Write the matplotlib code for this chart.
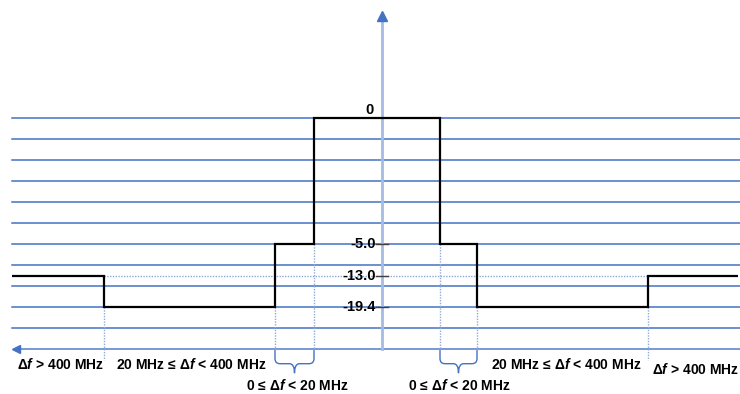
import numpy as np
import matplotlib.pyplot as plt
from matplotlib.path import Path
from matplotlib.patches import PathPatch

plt.rcParams['font.family'] = ['Liberation Sans', 'DejaVu Sans']
plt.rcParams['font.weight'] = 'bold'
plt.rcParams['mathtext.fontset'] = 'custom'
plt.rcParams['mathtext.it'] = 'Liberation Sans:bold:italic'
plt.rcParams['mathtext.rm'] = 'Liberation Sans:bold'

# emission mask (dB), one value per frequency segment, left to right
mask_db = [-13.0, -19.4, -5.0, 0.0, -5.0, -19.4, -13.0]
# segment edges on the (not to scale) frequency axis
seg_edges = [12, 104, 275, 314, 440, 477, 648, 738]
# where each dB level sits on the schematic grid
level_pos = {0.0: 0.0, -5.0: -6.0, -13.0: -7.5, -19.4: -9.0}
value_labels = ['0', '-5.0', '-13.0', '-19.4']
range_labels = [r'Δ$f$ > 400 MHz', r'20 MHz ≤ Δ$f$ < 400 MHz', r'0 ≤ Δ$f$ < 20 MHz',
                r'0 ≤ Δ$f$ < 20 MHz', r'20 MHz ≤ Δ$f$ < 400 MHz', r'Δ$f$ > 400 MHz']

grid_blue = '#4472C4'
light_blue = '#a4bbe4'
dot_blue = '#8eaadb'

fig = plt.figure(figsize=(7.4, 3.94), dpi=100)
ax = fig.add_axes([0, 0, 1, 1])
ax.set_xlim(0, 740)
ax.set_ylim(-(394 - 118) / 21, 118 / 21)
ax.axis('off')

x0, x1 = 12, 740
x_axis = 381.5
y_axis = -11

# grid lines
for g in range(0, -11, -1):
    ax.plot([x0, x1], [g, g], color=grid_blue, lw=1.1, zorder=1)

# axes with arrow heads
ax.plot([x0 + 3, x1], [y_axis, y_axis], color='#6d91d4', lw=1.3, zorder=2)
ax.plot([x0 + 4], [y_axis], marker='<', ms=6, color=grid_blue, mec=grid_blue, zorder=3)
ax.plot([x_axis, x_axis], [y_axis, 4.9], color=light_blue, lw=2, zorder=2)
ax.plot([x_axis], [4.85], marker='^', ms=6.5, color=grid_blue, mec=grid_blue, zorder=3)

# mask
ys = [level_pos[v] for v in mask_db]
ax.stairs(ys, seg_edges, baseline=None, color='black', lw=1.6, zorder=4)

# dotted guides
ax.plot([seg_edges[1], seg_edges[6]], [level_pos[-13.0]] * 2, color=dot_blue,
        lw=1, ls=(0, (1, 1)), zorder=2)
drop = {1: -11.5, 2: -11.05, 3: -11.05, 4: -11.05, 5: -11.05, 6: -11.5}
for i, yb in drop.items():
    top = min(ys[i - 1], ys[i])
    ax.plot([seg_edges[i]] * 2, [top, yb], color=dot_blue, lw=1, ls=(0, (1, 1)), zorder=2)

# level labels and ticks
ax.text(370, 0.38, value_labels[0], ha='center', va='center', fontsize=10.5)
for lab, v in zip(value_labels[1:], [-5.0, -13.0, -19.4]):
    ax.plot([376, 388], [level_pos[v]] * 2, color='#404040', lw=1, zorder=5)
    ax.text(376, level_pos[v], lab, ha='right', va='center', fontsize=10.5, zorder=6)


def brace(xa, xb, yt=-11.05, ym=-11.7, ytip=-12.15, rx=5, k=0.25):
    xc = (xa + xb) / 2
    verts = [(xa, yt), (xa, ym + k), (xa, ym), (xa + rx, ym), (xc - rx, ym),
             (xc, ym), (xc, ytip), (xc, ym), (xc + rx, ym), (xb - rx, ym),
             (xb, ym), (xb, ym + k), (xb, yt)]
    codes = [Path.MOVETO, Path.LINETO, Path.CURVE3, Path.CURVE3, Path.LINETO,
             Path.CURVE3, Path.CURVE3, Path.CURVE3, Path.CURVE3, Path.LINETO,
             Path.CURVE3, Path.CURVE3, Path.LINETO]
    ax.add_patch(PathPatch(Path(verts, codes), fill=False, ec=grid_blue, lw=1))


brace(seg_edges[2], seg_edges[3])
brace(seg_edges[4], seg_edges[5])

# range labels
pos = [(61, -11.72), (191, -11.72), (297, -12.72), (459, -12.72), (566, -11.72), (696, -12.0)]
for lab, (px, py) in zip(range_labels, pos):
    ax.text(px, py, lab, ha='center', va='center', fontsize=10)

plt.savefig('out.png', dpi=100)
